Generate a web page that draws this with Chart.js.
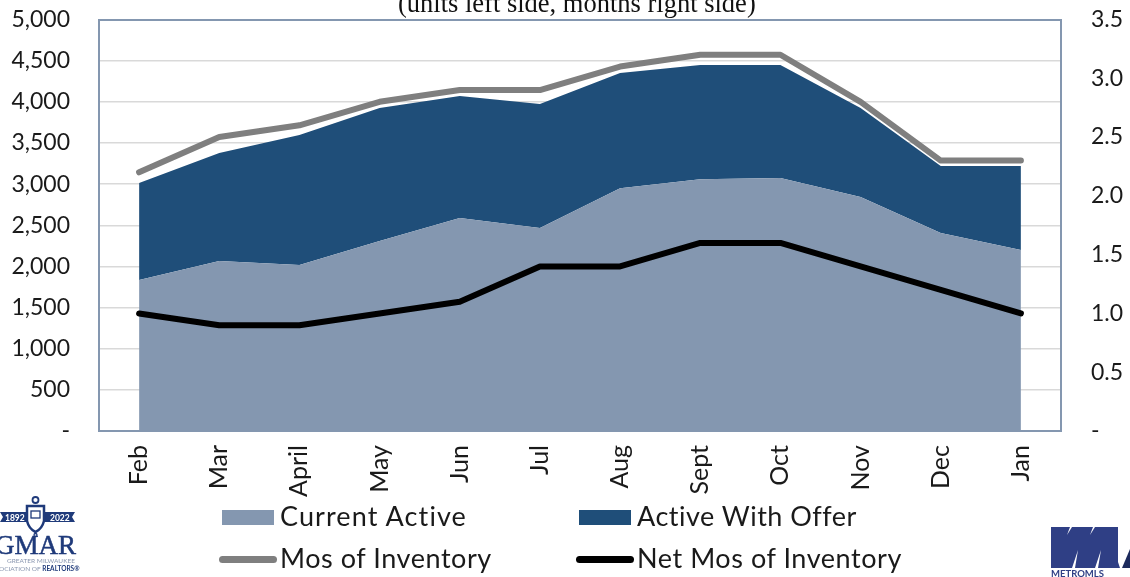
<!DOCTYPE html>
<html><head><meta charset="utf-8">
<style>
html,body{margin:0;padding:0;background:#fff;width:1130px;height:577px;overflow:hidden}
#wrap{position:relative;width:1130px;height:577px;overflow:hidden}
canvas{position:absolute;left:0;top:0}
.t{position:absolute;white-space:nowrap;color:#1a1a1a}
.lg{font:27px Lato,sans-serif;letter-spacing:0.55px;line-height:30px}
.sw{position:absolute}
</style>
<script src="https://cdn.jsdelivr.net/npm/chart.js@4"></script>
</head><body><div id="wrap">
<canvas id="c" width="1130" height="577"></canvas>
<div class="t" id="title" style="left:398px;top:-12px;font:26.5px 'Liberation Serif',serif;color:#111">(units left side, months right side)</div>
<div id="legend"></div>
<svg style="position:absolute;left:0;top:485px" width="90" height="92">
 <path d="M0 27H26V37H0L3 32z" fill="#1f3a7a"/>
 <path d="M45 27H75L72 32L75 37H45z" fill="#1f3a7a"/>
 <path d="M27 21h17v15q-2 8-8.500 11q-6.500-3-8.500-11z" fill="#fff" stroke="#1f3a7a" stroke-width="2.500"/>
 <rect x="31" y="26" width="9" height="7" fill="none" stroke="#1f3a7a" stroke-width="1.300"/>
 <circle cx="35.500" cy="15" r="3" fill="none" stroke="#1f3a7a" stroke-width="1.800"/>
 <circle cx="35.500" cy="50" r="1.500" fill="none" stroke="#1f3a7a" stroke-width="1.300"/>
 <text x="5" y="35.500" font-family="Lato" font-size="8.500" font-weight="700" fill="#fff">1892</text>
 <text x="50" y="35.500" font-family="Lato" font-size="8.500" font-weight="700" fill="#fff">2022</text>
 <text x="-5" y="69" font-family="Liberation Serif" font-size="27" stroke="#1f3a7a" stroke-width="0.500" fill="#1f3a7a">GMAR</text>
 <text x="7" y="78" font-family="Lato" font-size="6.500" fill="#8a97b0">GREATER MILWAUKEE</text>
 <text x="-1" y="86" font-family="Lato" font-size="6.500" fill="#8a97b0">OCIATION OF <tspan fill="#1f3a7a" font-weight="700">REALTORS®</tspan></text>
</svg>
<svg style="position:absolute;left:1040px;top:517px" width="90" height="60">
 <path d="M82 51L90 32V51z" fill="#1c2a5c"/>
 <path d="M11 10H30L27 18L32 10H53L50 18L55 10H78V45L80 51H58L61 33L55 51H35L38 33L32 51H11z" fill="#2f3f85"/>
 <text x="11" y="60" font-family="Lato" font-size="9.500" font-weight="700" fill="#2f3f85">METROMLS</text>
</svg>
</div>
<script>
const months=['Feb','Mar','April','May','Jun','Jul','Aug','Sept','Oct','Nov','Dec','Jan'];
const currentActive=[1835,2065,2017,2310,2588,2467,2950,3060,3075,2843,2405,2200];
const activeWithOffer=[1178,1313,1579,1615,1482,1506,1400,1387,1372,1082,815,1020];
const mosInventory=[2.2,2.5,2.6,2.8,2.9,2.9,3.1,3.2,3.2,2.8,2.3,2.3];
const netMosInventory=[1.0,0.9,0.9,1.0,1.1,1.4,1.4,1.6,1.6,1.4,1.2,1.0];
const seriesNames=['Current Active','Active With Offer','Mos of Inventory','Net Mos of Inventory'];

const FONT='Lato, sans-serif', AXIS='#8497b0', GRID='#d9d9d9', TXT='#1a1a1a';
const C1='#8497b0', C2='#1f4e79', C3='#7f7f7f', C4='#000000';

const legendSpec=[[222,504,seriesNames[0],C1,'box',1.1],[579,504,seriesNames[1],C2,'box',0.5],
                  [222,546,seriesNames[2],C3,'line',0.55],[579,546,seriesNames[3],C4,'line',0.55]];
const lg=document.getElementById('legend');
legendSpec.forEach(([x,y,name,col,kind,ls])=>{
  const s=document.createElement('div');s.className='sw';
  if(kind==='box'){s.style.cssText=`position:absolute;left:${x}px;top:${y+6}px;width:52px;height:15px;background:${col}`;}
  else{s.style.cssText=`position:absolute;left:${x-3}px;top:${y+10}px;width:58px;height:7px;border-radius:4px;background:${col}`;}
  lg.appendChild(s);
  const t=document.createElement('div');t.className='t lg';t.textContent=name;
  t.style.left=(x+58)+'px';t.style.top=(y-3)+'px';t.style.letterSpacing=ls+'px';lg.appendChild(t);
});

const noPad=s=>{s.paddingTop=0;s.paddingBottom=0;s.paddingLeft=0;s.paddingRight=0;};
const lineBase={pointRadius:0,fill:false,tension:0,borderWidth:6,borderCapStyle:'round',borderJoinStyle:'round'};
Chart.defaults.font.family=FONT;
new Chart(document.getElementById('c'),{
  type:'line',
  data:{labels:months,datasets:[
    {label:seriesNames[0],data:currentActive,yAxisID:'y',backgroundColor:C1,borderWidth:0,pointRadius:0,fill:'origin',tension:0,order:3},
    {label:seriesNames[1],data:activeWithOffer,yAxisID:'y',backgroundColor:C2,borderWidth:0,pointRadius:0,fill:'-1',tension:0,order:4},
    {...lineBase,label:seriesNames[2],data:mosInventory,yAxisID:'yR',borderColor:C3,order:2},
    {...lineBase,label:seriesNames[3],data:netMosInventory,yAxisID:'yR',borderColor:C4,order:1}
  ]},
  options:{
    responsive:false,animation:false,
    layout:{autoPadding:false,padding:{top:19.5,left:0,right:0,bottom:0}},
    plugins:{legend:{display:false},title:{display:false},tooltip:{enabled:false}},
    scales:{
      x:{offset:true,
        grid:{display:false,drawTicks:false},
        border:{display:true,color:AXIS,width:2},
        ticks:{color:TXT,font:{size:25},minRotation:90,maxRotation:90,padding:14,autoSkip:false},
        afterFit(s){s.height=146;noPad(s);}},
      y:{position:'left',stacked:true,min:0,max:5000,
        grid:{drawTicks:false,color:c=>c.tick.value===5000?AXIS:GRID,lineWidth:c=>c.tick.value===5000?2:1.5},
        border:{display:true,color:AXIS,width:2},
        ticks:{stepSize:500,color:TXT,font:{size:23},padding:29,
          callback:v=>v===0?'-':v.toLocaleString('en-US')},
        afterFit(s){s.width=99;noPad(s);}},
      yR:{position:'right',min:0,max:3.5,
        grid:{display:false,drawTicks:false},
        border:{display:true,color:AXIS,width:2},
        ticks:{stepSize:0.5,color:TXT,font:{size:23},padding:30,
          callback:v=>v===0?'-':v.toFixed(1)},
        afterFit(s){s.width=69;noPad(s);}}
    }
  }
});
</script></body></html>
